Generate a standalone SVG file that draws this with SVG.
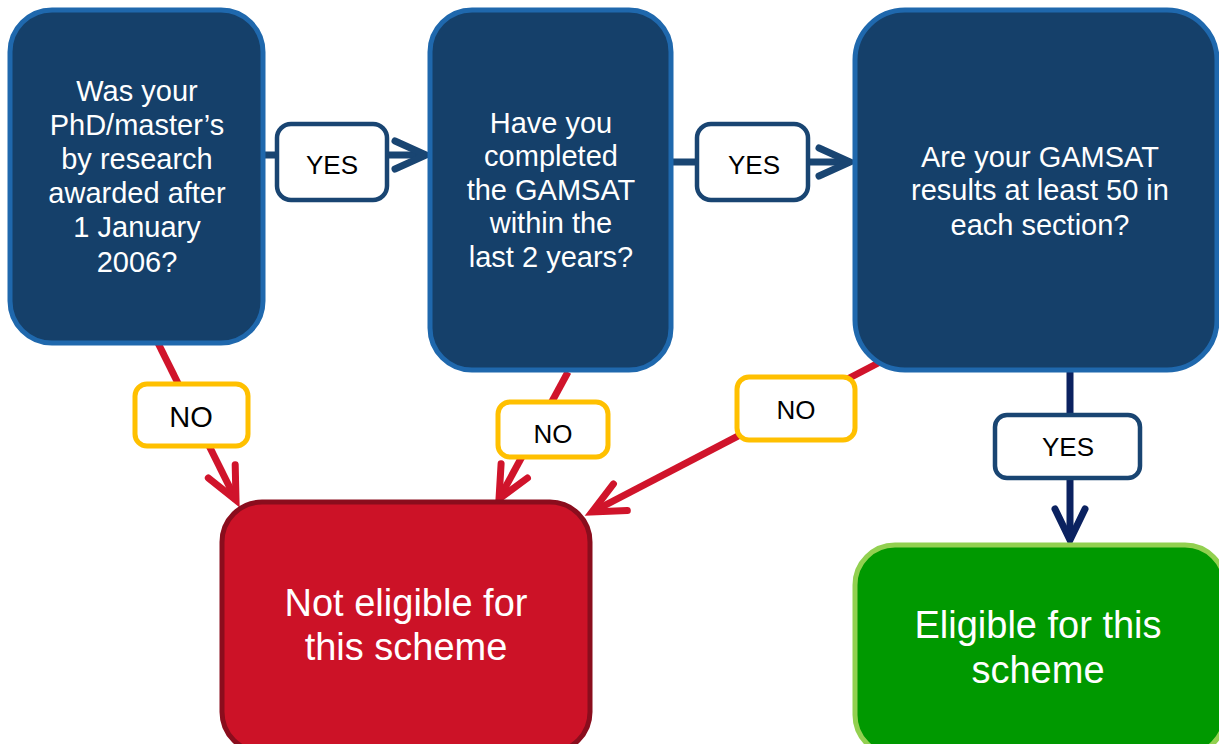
<svg xmlns="http://www.w3.org/2000/svg" width="1219" height="744" viewBox="0 0 1219 744">
<style>
text{font-family:"Liberation Sans",Arial,sans-serif;text-anchor:middle}
.q rect{fill:#15406a;stroke:#1f68ad;stroke-width:5}
.q text{fill:#fff;font-size:29px}
.lblY rect{fill:#fff;stroke:#194572;stroke-width:4.5}
.lblN rect{fill:#fff;stroke:#ffc000;stroke-width:5}
.lbl text{fill:#000}
.cb{stroke:#194572;stroke-width:7;fill:none}
.cn{stroke:#0b2260;stroke-width:7;fill:none}
.cr{stroke:#d0142b;stroke-width:7;fill:none}
.res text{fill:#fff;font-size:38px}
</style>
<defs>
<marker id="ab" markerUnits="userSpaceOnUse" markerWidth="60" markerHeight="60" viewBox="-45 -30 60 60" refX="0" refY="0" orient="auto" overflow="visible">
<path d="M-31-14L0 0L-31 14" fill="none" stroke="#194572" stroke-width="7" stroke-linecap="round" stroke-linejoin="miter"/>
</marker>
<marker id="an" markerUnits="userSpaceOnUse" markerWidth="60" markerHeight="60" viewBox="-45 -30 60 60" refX="0" refY="0" orient="auto" overflow="visible">
<path d="M-31-15L0 0L-31 15" fill="none" stroke="#0b2260" stroke-width="7" stroke-linecap="round" stroke-linejoin="miter"/>
</marker>
<marker id="ar" markerUnits="userSpaceOnUse" markerWidth="60" markerHeight="60" viewBox="-45 -30 60 60" refX="0" refY="0" orient="auto" overflow="visible">
<path d="M-32-15L0 0L-32 15" fill="none" stroke="#d0142b" stroke-width="7" stroke-linecap="round" stroke-linejoin="miter"/>
</marker>
</defs>
<g id="connectors">
<line class="cb" x1="262" y1="155" x2="426" y2="155" marker-end="url(#ab)"/>
<line class="cb" x1="670" y1="162" x2="850" y2="162" marker-end="url(#ab)"/>
<line class="cn" x1="1070" y1="370" x2="1070" y2="540" marker-end="url(#an)"/>
<line class="cr" x1="158" y1="343" x2="236" y2="500" marker-end="url(#ar)"/>
<line class="cr" x1="568" y1="372" x2="499" y2="499" marker-end="url(#ar)"/>
<line class="cr" x1="884" y1="360" x2="592" y2="512" marker-end="url(#ar)"/>
</g>
<g id="q1" class="q">
<rect x="10" y="10" width="253" height="333" rx="42"/>
<text x="137" y="101">Was your</text>
<text x="137" y="135">PhD/master’s</text>
<text x="137" y="169">by research</text>
<text x="137" y="203">awarded after</text>
<text x="137" y="237">1 January</text>
<text x="137" y="272">2006?</text>
</g>
<g id="q2" class="q">
<rect x="430" y="10" width="241" height="360" rx="42"/>
<text x="551" y="133">Have you</text>
<text x="551" y="166">completed</text>
<text x="551" y="200">the GAMSAT</text>
<text x="551" y="233">within the</text>
<text x="551" y="267">last 2 years?</text>
</g>
<g id="q3" class="q">
<rect x="855" y="10" width="362" height="360" rx="50"/>
<text x="1040" y="167">Are your GAMSAT</text>
<text x="1040" y="200">results at least 50 in</text>
<text x="1040" y="235">each section?</text>
</g>
<g id="notEligible" class="res">
<rect x="222" y="502" width="368" height="250" rx="40" fill="#cc1227" stroke="#8a0d1d" stroke-width="5"/>
<text x="406" y="616">Not eligible for</text>
<text x="406" y="660">this scheme</text>
</g>
<g id="eligible" class="res">
<rect x="855" y="545" width="370" height="210" rx="40" fill="#009900" stroke="#92d050" stroke-width="5"/>
<text x="1038" y="638">Eligible for this</text>
<text x="1038" y="683">scheme</text>
</g>
<g id="yes1" class="lbl lblY">
<rect x="277" y="124" width="110" height="76" rx="14"/>
<text x="332" y="174" font-size="26">YES</text>
</g>
<g id="yes2" class="lbl lblY">
<rect x="697" y="124" width="111" height="76" rx="14"/>
<text x="754" y="174" font-size="26">YES</text>
</g>
<g id="yes3" class="lbl lblY">
<rect x="995" y="415" width="145" height="63" rx="12"/>
<text x="1068" y="456" font-size="26">YES</text>
</g>
<g id="no1" class="lbl lblN">
<rect x="135" y="384" width="113" height="62" rx="12"/>
<text x="191" y="427" font-size="29">NO</text>
</g>
<g id="no2" class="lbl lblN">
<rect x="498" y="402" width="110" height="55" rx="12"/>
<text x="553" y="443" font-size="26">NO</text>
</g>
<g id="no3" class="lbl lblN">
<rect x="737" y="377" width="118" height="63" rx="12"/>
<text x="796" y="419" font-size="26">NO</text>
</g>
</svg>
